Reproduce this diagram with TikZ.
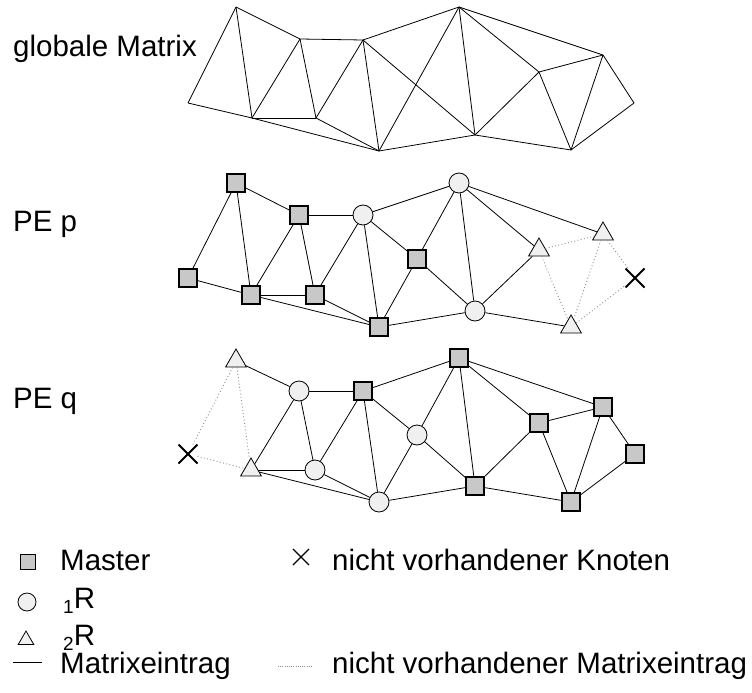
\documentclass[tikz,border=0pt]{standalone}
\usepackage{fontspec}
\setmainfont{Liberation Sans}
\usetikzlibrary{shapes.geometric,shapes.misc}

\definecolor{masterfill}{RGB}{200,200,200}
\definecolor{copyfill}{RGB}{240,240,240}
\definecolor{dotgray}{RGB}{140,140,140}

\newcommand{\lowidx}[1]{\raisebox{-0.18em}{\fontsize{19}{19}\selectfont #1}}

\tikzset{
    entry/.style={line width=0.8pt},
    noentry/.style={line width=0.9pt,dotgray,dash pattern=on 0.9pt off 2.4pt},
    master/.style={draw,rectangle,fill=masterfill,line width=1.6pt,minimum size=18pt,inner sep=0pt},
    einsR/.style={draw,circle,fill=copyfill,line width=0.8pt,minimum size=20pt,inner sep=0pt},
    zweiR/.style={draw,regular polygon,regular polygon sides=3,fill=copyfill,line width=0.8pt,minimum size=24pt,inner sep=0pt},
    fehlt/.style={draw,cross out,line width=2pt,minimum size=17pt,inner sep=0pt},
    label/.style={anchor=base west,inner sep=0pt,font=\fontsize{29.5}{35}\selectfont}
}

\begin{document}
\begin{tikzpicture}[x=1pt,y=-1pt]
        \useasboundingbox (0,0) rectangle (752,693);

        % Global matrix: plain triangle mesh
        \node[label] (tglobal) at (13,57) {globale Matrix};
        \foreach \name/\x/\y in {a/188/103,b/236/7,c/252/118,d/300/39,e/316/118,f/363/40,g/379/151,
                                 h/459/7,i/475/135,j/539/72,k/603/55,l/571/150,m/634/103}
            \coordinate (g\name) at (\x,\y);
        \foreach \from/\to in {a/b,a/c,b/c,b/d,c/d,c/e,d/e,d/f,e/f,e/g,c/g,f/g,f/h,f/i,g/h,g/i,
                               h/i,h/j,h/k,i/j,i/l,j/k,j/l,k/l,k/m,l/m}
            \draw[entry] (g\from) -- (g\to);

        % PE p
        \node[label] (tpep) at (13,231) {PE p};
        \begin{scope}[shift={(0,176)}]
            \foreach \name/\x/\y/\kind in {a/188/102/master,b/236/7/master,c/251/119/master,d/299/39/master,
                                           e/315/119/master,f/363/39/einsR,g/379/151/master,n/417/83/master,
                                           h/459/7/einsR,i/475/135/einsR,j/539/74/zweiR,k/603/58/zweiR,
                                           l/571/151/zweiR,m/635/102/fehlt}
                \node[\kind] (p\name) at (\x,\y) {};
        \end{scope}
        \foreach \from/\to in {a/b,a/c,b/c,b/d,c/d,c/e,d/e,d/f,e/f,e/g,c/g,f/g,f/h,f/n,n/g,n/h,n/i,
                               g/i,h/i,h/j,h/k,i/j,i/l}
            \draw[entry] (p\from) -- (p\to);
        \foreach \from/\to in {j/k,j/l,k/l,k/m,l/m}
            \draw[noentry] (p\from) -- (p\to);

        % PE q
        \node[label] (tpeq) at (13,408) {PE q};
        \begin{scope}[shift={(0,352)}]
            \foreach \name/\x/\y/\kind in {a/188/102/fehlt,b/236/9/zweiR,c/251/118/zweiR,d/299/39/einsR,
                                           e/315/118/einsR,f/363/39/master,g/379/150/einsR,n/417/83/einsR,
                                           h/459/6/master,i/475/134/master,j/539/71/master,k/603/55/master,
                                           l/571/150/master,m/635/102/master}
                \node[\kind] (q\name) at (\x,\y) {};
        \end{scope}
        \foreach \from/\to in {b/d,c/d,c/e,d/e,d/f,e/f,e/g,c/g,f/g,f/h,f/n,n/g,n/h,n/i,g/i,h/i,
                               h/j,h/k,i/j,i/l,j/k,j/l,k/l,k/m,l/m}
            \draw[entry] (q\from) -- (q\to);
        \foreach \from/\to in {a/b,a/c,b/c}
            \draw[noentry] (q\from) -- (q\to);

        % Legend
        \node[master,minimum size=15pt,line width=1.1pt] (lmaster) at (28,562) {};
        \node[einsR,minimum size=18pt] (leinsR) at (27,602) {};
        \node[zweiR,minimum size=18pt] (lzweiR) at (26,640) {};
        \node[fehlt,line width=1.1pt,minimum size=15pt] (lfehlt) at (301,557) {};
        \coordinate (lentrya) at (13,662);
        \coordinate (lentryb) at (42,662);
        \coordinate (lnoentrya) at (278,666);
        \coordinate (lnoentryb) at (313,666);
        \draw[entry] (lentrya) -- (lentryb);
        \draw[noentry,line width=0.6pt,dash pattern=on 0.6pt off 1.6pt] (lnoentrya) -- (lnoentryb);

        \node[label] (tmaster) at (60,570) {Master};
        \node[label] (teinsR) at (63,608) {\lowidx{1}R};
        \node[label] (tzweiR) at (63,645) {\lowidx{2}R};
        \node[label] (tentry) at (60,673) {Matrixeintrag};
        \node[label] (tfehlt) at (332,570) {nicht vorhandener Knoten};
        \node[label] (tnoentry) at (332,673) {nicht vorhandener Matrixeintrag};
    \end{tikzpicture}
\end{document}
